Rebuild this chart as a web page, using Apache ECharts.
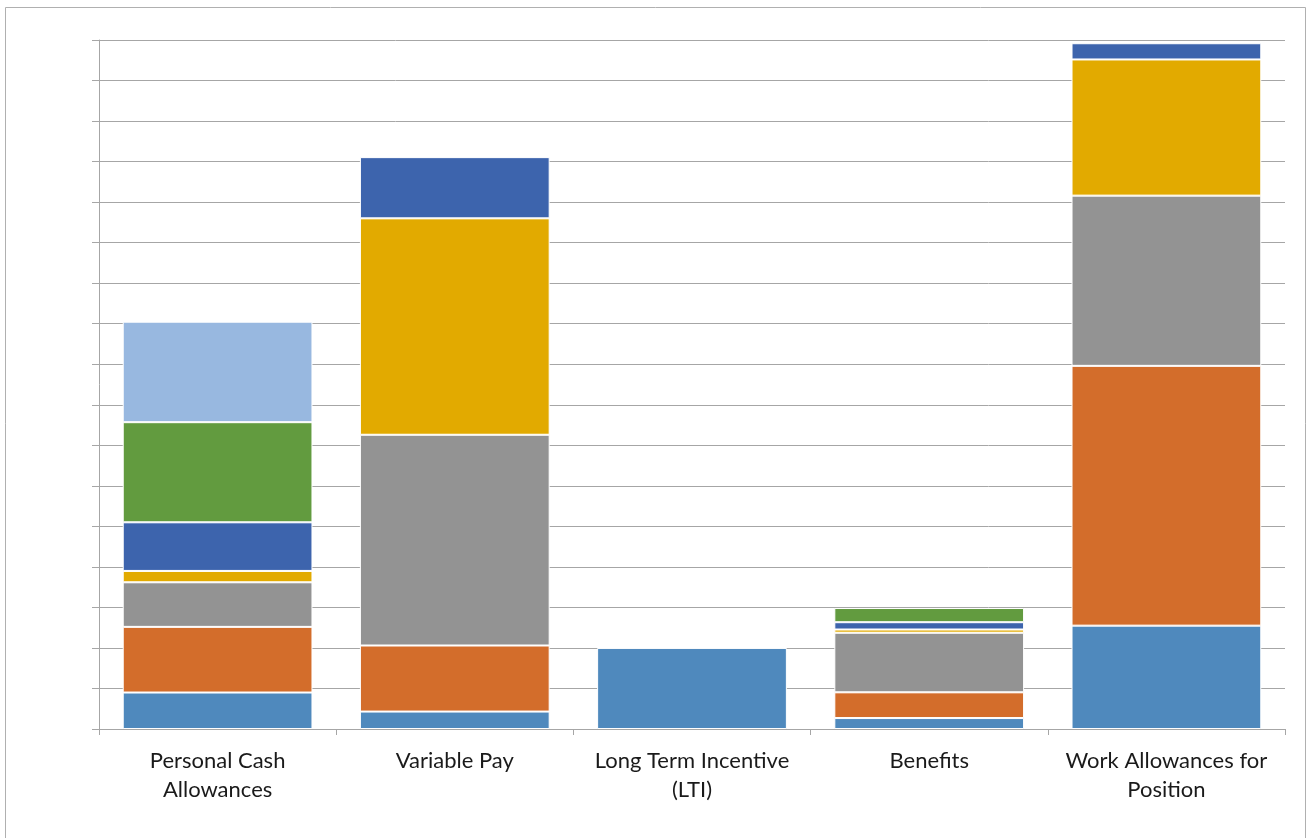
<!DOCTYPE html>
<html>
<head>
<meta charset="utf-8">
<script src="https://cdn.jsdelivr.net/npm/echarts@6/dist/echarts.min.js"></script>
<style>
  html, body { margin: 0; padding: 0; background: #fff; }
  #chart { width: 1307px; height: 838px; }
</style>
</head>
<body>
<div id="chart"></div>
<script>
// Pay categories along the x axis
const categories = [
  'Personal Cash\nAllowances',
  'Variable Pay',
  'Long Term Incentive\n(LTI)',
  'Benefits',
  'Work Allowances for\nPosition'
];

// Stacked component values per category ('-' = no segment)
const comp1 = [0.90, 0.43, 2.00, 0.27, 2.55];
const comp2 = [1.62, 1.63, '-', 0.635, 6.41];
const comp3 = [1.10, 5.20, '-', 1.47, 4.20];
const comp4 = [0.28, 5.34, '-', 0.08, 3.36];
const comp5 = [1.20, 1.51, '-', 0.18, 0.40];
const comp6 = [2.47, '-', '-', 0.35, '-'];
const comp7 = [2.48, '-', '-', '-', '-'];

const seriesData = [comp1, comp2, comp3, comp4, comp5, comp6, comp7];
const colors = ['#4f89bd', '#d36d2b', '#939393', '#e2aa00', '#3d64ad', '#629b3f', '#98b8e0'];

const chart = echarts.init(document.getElementById('chart'), null, { renderer: 'canvas' });

chart.setOption({
  animation: false,
  backgroundColor: '#fff',
  graphic: [{
    type: 'rect',
    shape: { x: 5.5, y: 7.5, width: 1300, height: 860 },
    style: { fill: 'none', stroke: '#b0b0b0', lineWidth: 1 },
    silent: true
  }],
  grid: { left: 99, right: 22, top: 40, bottom: 109, containLabel: false },
  xAxis: {
    type: 'category',
    data: categories,
    axisLine: { show: true, lineStyle: { color: '#a6a6a6', width: 1 } },
    axisTick: { show: true, alignWithLabel: false, length: 6, lineStyle: { color: '#a6a6a6' } },
    axisLabel: {
      color: '#1a1a1a',
      fontFamily: 'Lato, "Open Sans", sans-serif',
      fontSize: 22,
      lineHeight: 29,
      margin: 17,
      interval: 0
    },
    splitLine: { show: false }
  },
  yAxis: {
    type: 'value',
    min: 0,
    max: 17,
    interval: 1,
    axisLine: { show: true, lineStyle: { color: '#a6a6a6', width: 1 } },
    axisTick: { show: true, inside: false, length: 7, lineStyle: { color: '#a6a6a6' } },
    axisLabel: { show: false },
    splitLine: { show: true, lineStyle: { color: '#a6a6a6', width: 1 } }
  },
  series: seriesData.map((d, i) => ({
    name: 'Component ' + (i + 1),
    type: 'bar',
    stack: 'total',
    data: d,
    barCategoryGap: '20%',
    itemStyle: { color: colors[i], borderColor: '#ffffff', borderWidth: 1 }
  }))
});
</script>
</body>
</html>
